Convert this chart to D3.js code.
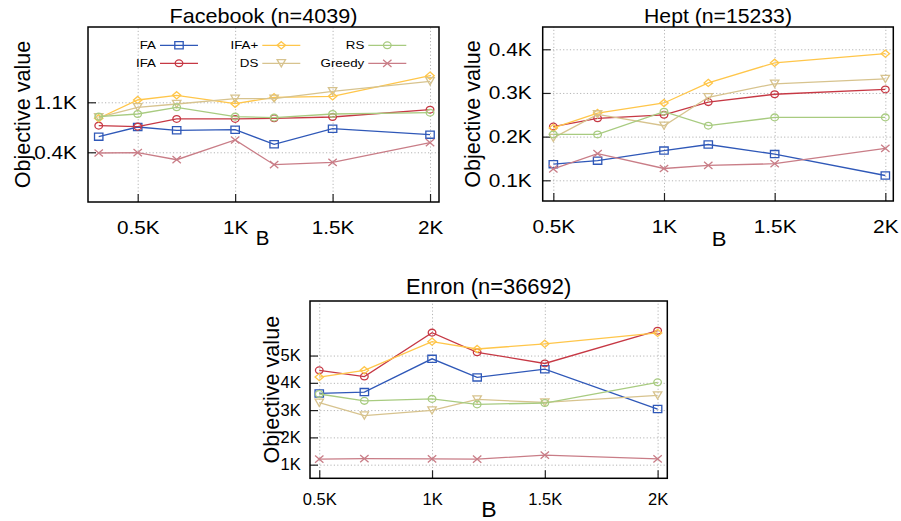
<!DOCTYPE html>
<html>
<head>
<meta charset="utf-8">
<script src="https://cdn.jsdelivr.net/npm/d3@7"></script>
<style>
  body { margin: 0; background: #fff; }
  svg { display: block; font-family: "Liberation Sans", Arial, sans-serif; }
</style>
</head>
<body>
<script>
// series shared by all three panels
const seriesNames = ["FA", "IFA", "IFA+", "DS", "RS", "Greedy"];
const seriesColors = ["#2f58b8", "#c63844", "#ffc64a", "#d7c38e", "#a8cb80", "#c97d87"];
const seriesMarkers = ["square", "circle", "diamond", "triangle", "circle", "cross"];

// budget B, in thousands
const facebookB = [0.3, 0.5, 0.7, 1, 1.2, 1.5, 2];
const heptB = [0.5, 0.7, 1, 1.2, 1.5, 2];
const enronB = [0.5, 0.7, 1, 1.2, 1.5, 2];

const xTicks = [0.5, 1, 1.5, 2];
const facebookYTicks = [0.4, 1.1];
const heptYTicks = [0.1, 0.2, 0.3, 0.4];
const enronYTicks = [1, 2, 3, 4, 5];

// objective values, in thousands (same order as seriesNames)
const facebookFA = [0.619, 0.754, 0.708, 0.716, 0.512, 0.730, 0.647];
const facebookIFA = [0.773, 0.759, 0.867, 0.867, 0.876, 0.894, 0.996];
const facebookIFAplus = [0.876, 1.132, 1.198, 1.080, 1.170, 1.184, 1.472];
const facebookDS = [0.890, 1.030, 1.076, 1.150, 1.150, 1.254, 1.394];
const facebookRS = [0.899, 0.936, 1.030, 0.899, 0.885, 0.936, 0.954];
const facebookGreedy = [0.390, 0.395, 0.296, 0.572, 0.226, 0.260, 0.534];

const heptFA = [0.137, 0.145, 0.168, 0.182, 0.160, 0.111];
const heptIFA = [0.223, 0.242, 0.250, 0.279, 0.297, 0.308];
const heptIFAplus = [0.220, 0.254, 0.277, 0.323, 0.369, 0.390];
const heptDS = [0.197, 0.251, 0.225, 0.290, 0.321, 0.332];
const heptRS = [0.205, 0.205, 0.257, 0.225, 0.244, 0.244];
const heptGreedy = [0.126, 0.161, 0.127, 0.134, 0.138, 0.173];

const enronFA = [3.61, 3.66, 4.88, 4.20, 4.50, 3.04];
const enronIFA = [4.46, 4.23, 5.84, 5.12, 4.71, 5.91];
const enronIFAplus = [4.21, 4.46, 5.51, 5.24, 5.43, 5.83];
const enronDS = [3.27, 2.80, 2.99, 3.39, 3.28, 3.54];
const enronRS = [3.59, 3.34, 3.41, 3.21, 3.26, 4.02];
const enronGreedy = [1.20, 1.22, 1.21, 1.20, 1.35, 1.21];

const app = {

  init: () => {
    app.svg = d3.select("body").append("svg")
      .attr("width", 901)
      .attr("height", 521);
    app.svg.append("rect")
      .attr("width", 901).attr("height", 521).style("fill", "#fff");

    // layout of each panel (frame box, axis domains, font sizes)
    const panels = [
      {
        title: "Facebook (n=4039)", b: facebookB, yTicks: facebookYTicks,
        values: [facebookFA, facebookIFA, facebookIFAplus, facebookDS, facebookRS, facebookGreedy],
        left: 88, right: 439, top: 27, bottom: 202,
        xDomain: [0.245, 2.046], yDomain: [-0.296, 2.154],
        tickFont: 18, tickSx: 1.15, xLabelOff: 32, yLabelPad: 11.3,
        titleFont: 20, titleSx: 1.08, titleY: 22.7,
        yLabelX: 29.5, bFont: 19.5, bY: 245, bX: 262.5
      },
      {
        title: "Hept (n=15233)", b: heptB, yTicks: heptYTicks,
        values: [heptFA, heptIFA, heptIFAplus, heptDS, heptRS, heptGreedy],
        left: 542.7, right: 893.3, top: 27, bottom: 201,
        xDomain: [0.452, 2.036], yDomain: [0.0526, 0.451],
        tickFont: 18.6, tickSx: 1.12, xLabelOff: 32.3, yLabelPad: 11,
        titleFont: 21, titleSx: 1.01, titleY: 22.7,
        yLabelX: 480, bFont: 21, bY: 246, bX: 719
      },
      {
        title: "Enron (n=36692)", b: enronB, yTicks: enronYTicks,
        values: [enronFA, enronIFA, enronIFAplus, enronDS, enronRS, enronGreedy],
        left: 310, right: 667.3, top: 301, bottom: 478.3,
        xDomain: [0.459, 2.043], yDomain: [0.5, 7.0],
        tickFont: 16, tickSx: 1.03, xLabelOff: 26.7, yLabelPad: 9.3,
        titleFont: 21.5, titleSx: 1.02, titleY: 294,
        yLabelX: 279.3, bFont: 22, bY: 516.7, bX: 489
      }
    ];

    panels.forEach(p => app.drawPanel(p));
    app.drawLegend();
  },

  // text stretched horizontally around its anchor point
  label: (parent, x, y, str, size, sx, anchor) => {
    parent.append("g")
      .attr("transform", `translate(${x},${y}) scale(${sx},1)`)
      .append("text")
      .attr("text-anchor", anchor || "middle")
      .style("font-size", size + "px")
      .style("fill", "#000")
      .text(str);
  },

  marker: (g, type, cx, cy, color) => {
    const w = 4.2, h = 3.6;
    if (type === "circle") {
      g.append("ellipse")
        .attr("cx", cx).attr("cy", cy)
        .attr("rx", 3.8).attr("ry", 3.4)
        .style("fill", "none").style("stroke", color).style("stroke-width", 1.3);
      return;
    }
    let d;
    if (type === "square") d = `M${-w},${-h}H${w}V${h}H${-w}Z`;
    else if (type === "diamond") d = `M0,${-h}L${w},0L0,${h}L${-w},0Z`;
    else if (type === "triangle") d = `M${-w},${-h}H${w}L0,${h}Z`;
    else d = `M${-w},${-h}L${w},${h}M${w},${-h}L${-w},${h}`;
    g.append("path")
      .attr("transform", `translate(${cx},${cy})`)
      .attr("d", d)
      .style("fill", "none").style("stroke", color).style("stroke-width", 1.3);
  },

  drawPanel: (p) => {
    const svg = app.svg;
    const w = p.right - p.left;
    const h = p.bottom - p.top;
    const x = d3.scaleLinear().domain(p.xDomain).range([p.left, p.right]);
    const y = d3.scaleLinear().domain(p.yDomain).range([p.bottom, p.top]);
    const fmt = d => d + "K";

    // dotted grid
    const grid = svg.append("g");
    grid.append("g")
      .attr("transform", `translate(0,${p.bottom})`)
      .call(d3.axisBottom(x).tickValues(xTicks).tickSize(-h).tickFormat(""));
    grid.append("g")
      .attr("transform", `translate(${p.left},0)`)
      .call(d3.axisLeft(y).tickValues(p.yTicks).tickSize(-w).tickFormat(""));
    grid.selectAll(".domain").remove();
    grid.selectAll("line")
      .style("stroke", "#b5b5b5")
      .style("stroke-width", 1)
      .style("stroke-dasharray", "1.2,2.2");

    // axes with inward ticks
    const xAxis = svg.append("g")
      .attr("transform", `translate(0,${p.bottom})`)
      .call(d3.axisBottom(x).tickValues(xTicks).tickSizeInner(-8).tickSizeOuter(0).tickFormat(fmt));
    xAxis.selectAll("text")
      .attr("y", p.xLabelOff).attr("dy", null)
      .attr("transform", `scale(${p.tickSx},1)`)
      .style("font-size", p.tickFont + "px")
      .style("font-family", "Liberation Sans, Arial, sans-serif")
      .style("fill", "#000");

    const yAxis = svg.append("g")
      .attr("transform", `translate(${p.left},0)`)
      .call(d3.axisLeft(y).tickValues(p.yTicks).tickSizeInner(-8).tickSizeOuter(0).tickFormat(fmt));
    yAxis.selectAll("text")
      .attr("x", -p.yLabelPad / p.tickSx)
      .attr("transform", `scale(${p.tickSx},1)`)
      .style("font-size", p.tickFont + "px")
      .style("font-family", "Liberation Sans, Arial, sans-serif")
      .style("fill", "#000");
    [xAxis, yAxis].forEach(a => {
      a.select(".domain").remove();
      a.selectAll("line").style("stroke", "#222").style("stroke-width", 1.2);
    });

    // series lines and markers
    const line = d3.line()
      .x((d, i) => x(p.b[i]))
      .y(d => y(d));
    p.values.forEach((vals, s) => {
      const g = svg.append("g");
      g.append("path")
        .datum(vals)
        .attr("d", line)
        .style("fill", "none")
        .style("stroke", seriesColors[s])
        .style("stroke-width", 1.3);
      vals.forEach((v, i) => app.marker(g, seriesMarkers[s], x(p.b[i]), y(v), seriesColors[s]));
    });

    // frame
    svg.append("rect")
      .attr("x", p.left).attr("y", p.top)
      .attr("width", w).attr("height", h)
      .style("fill", "none").style("stroke", "#000").style("stroke-width", 1.5);

    // title and axis labels
    app.label(svg, (p.left + p.right) / 2, p.titleY, p.title, p.titleFont, p.titleSx);
    app.label(svg, p.bX, p.bY, "B", p.bFont, 1.05);
    svg.append("text")
      .attr("transform", `translate(${p.yLabelX},${(p.top + p.bottom) / 2}) rotate(-90)`)
      .attr("text-anchor", "middle")
      .style("font-size", "21.6px")
      .style("fill", "#000")
      .text("Objective value");
  },

  drawLegend: () => {
    const svg = app.svg;
    const g = svg.append("g");
    const colText = [156, 258.3, 364.3];
    const rowY = [45.3, 63.3];
    seriesNames.forEach((name, s) => {
      const c = Math.floor(s / 2), r = s % 2;
      const tx = colText[c], ty = rowY[r];
      app.label(g, tx, ty + 4.1, name, 11.6, 1.15, "end");
      g.append("line")
        .attr("x1", tx + 4).attr("x2", tx + 42)
        .attr("y1", ty).attr("y2", ty)
        .style("stroke", seriesColors[s]).style("stroke-width", 1.3);
      app.marker(g, seriesMarkers[s], tx + 23, ty, seriesColors[s]);
    });
  }

};

app.init();
</script>
</body>
</html>
